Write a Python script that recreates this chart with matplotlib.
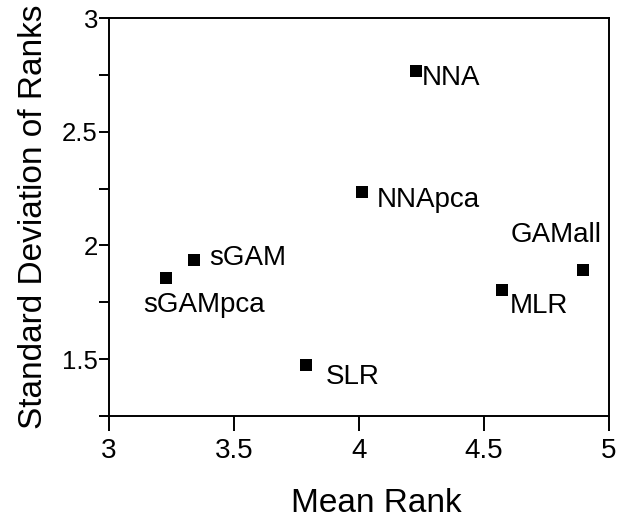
#!/usr/bin/env python3
"""Mean rank vs. standard deviation of ranks for each model."""

import matplotlib

matplotlib.use("Agg")
import matplotlib.pyplot as plt
from matplotlib.ticker import MultipleLocator

plt.rcParams["font.family"] = ["Liberation Sans", "DejaVu Sans"]

models = ["NNA", "NNApca", "sGAM", "sGAMpca", "GAMall", "MLR", "SLR"]
mean_rank = [4.227, 4.012, 3.340, 3.228, 4.897, 4.572, 3.786]
sd_rank = [2.768, 2.235, 1.936, 1.857, 1.893, 1.805, 1.473]

# label placement: offset of text (left, baseline) from the marker, in pixels
label_offsets = {
    "NNA": (6, -14),
    "NNApca": (15, -15),
    "sGAM": (15, -5),
    "sGAMpca": (-23, -34),
    "GAMall": (-73, 28),
    "MLR": (8, -23),
    "SLR": (20, -19),
}


def main() -> int:
    fig = plt.figure(figsize=(6.26, 5.18), dpi=100)
    ax = fig.add_axes([109 / 626, 1 - 416 / 518, 500 / 626, 398 / 518])

    ax.scatter(mean_rank, sd_rank, marker="s", s=80, color="black",
               linewidths=0, zorder=3)
    for name, x, y in zip(models, mean_rank, sd_rank):
        ax.annotate(name, (x, y), xytext=label_offsets[name],
                    textcoords="offset pixels", ha="left", va="baseline",
                    fontsize=20, zorder=4)

    ax.set_xlim(3, 5)
    ax.set_ylim(1.25, 3)
    ax.set_xticks([3, 3.5, 4, 4.5, 5])
    ax.set_xticklabels(["3", "3.5", "4", "4.5", "5"])
    ax.set_yticks([1.5, 2, 2.5, 3])
    ax.set_yticklabels(["1.5", "2", "2.5", "3"])
    ax.yaxis.set_minor_locator(MultipleLocator(0.25))

    for sp in ax.spines.values():
        sp.set_linewidth(1.4)
    ax.tick_params(axis="x", which="major", direction="out", length=11,
                   width=1.4, pad=5, labelsize=20)
    ax.tick_params(axis="y", which="both", direction="out", length=7,
                   width=1.4, pad=1, labelsize=18.5)

    ax.set_xlabel("Mean Rank", fontsize=24, va="baseline")
    ax.set_ylabel("Standard Deviation of Ranks", fontsize=24, va="baseline")
    ax.xaxis.set_label_coords(0.534, -0.241)
    ax.yaxis.set_label_coords(-0.134, 0.5)

    fig.savefig("out.png", dpi=100)
    return 0


if __name__ == "__main__":
    raise SystemExit(main())
